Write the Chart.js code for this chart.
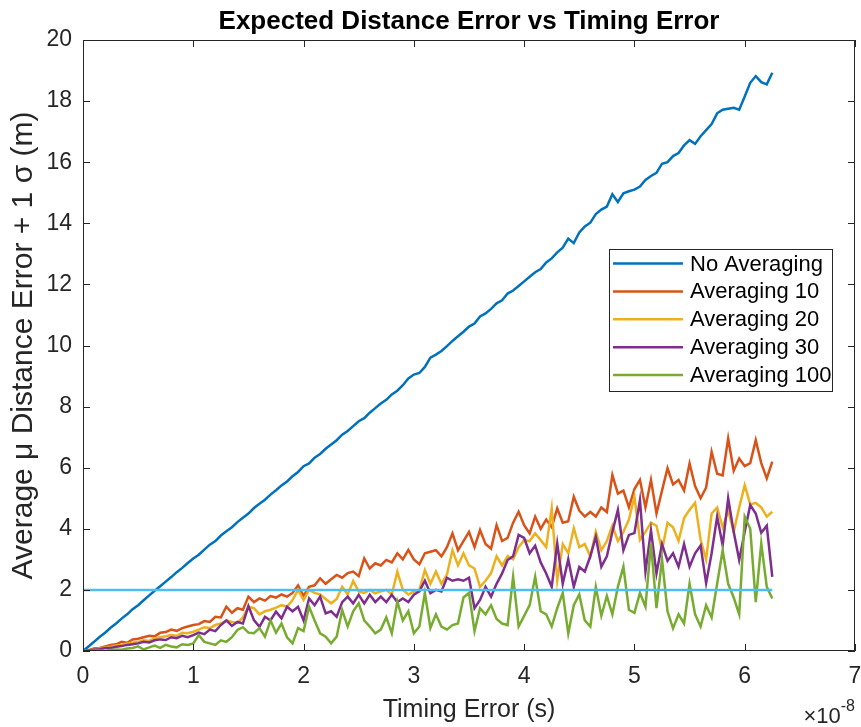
<!DOCTYPE html>
<html>
<head>
<meta charset="utf-8">
<title>Expected Distance Error vs Timing Error</title>
<script src="https://cdn.jsdelivr.net/npm/chart.js@4.4.1/dist/chart.umd.min.js"></script>
<style>
  html, body { margin: 0; padding: 0; background: #fff; }
</style>
</head>
<body>
<canvas id="myChart" width="861" height="727"></canvas>
<script>
// Timing error samples, in units of 1e-8 s (0 .. 6.25, step 0.05)
const timing = Array.from({ length: 126 }, (_, i) => +(i * 0.05).toFixed(2));

// Average mu distance error + 1 sigma (m)
const noAveraging = [
  0, 0.15, 0.3, 0.46, 0.6, 0.76, 0.9, 1.06, 1.2, 1.37,
  1.5, 1.66, 1.82, 1.97, 2.12, 2.27, 2.42, 2.58, 2.72, 2.88,
  3.03, 3.15, 3.32, 3.48, 3.6, 3.78, 3.92, 4.05, 4.22, 4.36,
  4.5, 4.68, 4.82, 4.95, 5.12, 5.26, 5.42, 5.55, 5.72, 5.86,
  6.05, 6.14, 6.33, 6.45, 6.62, 6.76, 6.9, 7.08, 7.2, 7.36,
  7.52, 7.62, 7.8, 7.95, 8.1, 8.22, 8.4, 8.52, 8.7, 8.92,
  9.05, 9.1, 9.3, 9.6, 9.7, 9.82, 9.98, 10.15, 10.3, 10.45,
  10.62, 10.72, 10.95, 11.05, 11.2, 11.38, 11.48, 11.7, 11.8, 11.95,
  12.1, 12.25, 12.4, 12.5, 12.72, 12.85, 13.05, 13.2, 13.5, 13.35,
  13.7, 13.9, 14.02, 14.3, 14.45, 14.55, 14.95, 14.7, 14.98, 15.05,
  15.1, 15.2, 15.42, 15.55, 15.65, 15.95, 16.0, 16.2, 16.3, 16.55,
  16.72, 16.6, 16.85, 17.05, 17.25, 17.6, 17.72, 17.75, 17.78, 17.72,
  18.15, 18.6, 18.82, 18.62, 18.55, 18.93
];
const averaging10 = [
  0, 0.03, 0.08, 0.1, 0.15, 0.2, 0.22, 0.3, 0.27, 0.38,
  0.4, 0.45, 0.5, 0.48, 0.6, 0.62, 0.7, 0.66, 0.75, 0.8,
  0.85, 0.88, 0.98, 0.95, 1.12, 1.1, 1.45, 1.25, 1.4, 1.35,
  1.78, 1.6, 1.72, 1.65, 1.8, 1.75, 1.85, 1.78, 1.9, 2.15,
  1.8, 2.1, 2.15, 2.38, 2.2, 2.35, 2.49, 2.4, 2.55, 2.6,
  2.45, 3.03, 2.7, 2.87, 2.8, 2.98, 2.9, 3.2, 3.0, 3.31,
  3.0, 2.84, 3.2, 3.25, 3.3, 3.1, 3.4, 3.85, 3.3, 3.6,
  3.9, 3.4, 3.96, 3.5, 3.35, 4.12, 3.6, 3.7, 4.2, 4.56,
  4.12, 3.85, 4.4, 4.0, 4.3, 4.05, 4.67, 4.2, 4.25, 5.05,
  4.6, 4.4, 4.55, 4.4, 4.7, 4.55, 5.76, 5.15, 5.25, 4.7,
  5.3, 5.6, 4.7, 5.6, 4.5, 5.25, 5.98, 5.45, 5.6, 5.25,
  6.14, 5.4, 5.0, 5.35, 6.52, 5.8, 5.75, 6.96, 5.9, 6.3,
  6.05, 6.15, 6.9, 6.15, 5.65, 6.2
];
const averaging20 = [
  0, 0.02, 0.05, 0.08, 0.12, 0.14, 0.18, 0.2, 0.25, 0.27,
  0.3, 0.35, 0.33, 0.42, 0.45, 0.48, 0.52, 0.5, 0.6, 0.58,
  0.63, 0.7, 0.78, 0.75, 0.85, 0.9, 1.0, 0.95, 0.92, 1.1,
  1.45, 1.4, 1.2, 1.3, 1.35, 1.42, 1.5, 1.45, 1.67, 2.0,
  1.67, 2.0, 1.9, 1.85, 1.7, 1.56, 1.7, 2.1, 1.85, 2.29,
  1.95, 1.9, 2.0, 1.89, 1.95, 2.0, 1.85, 2.6, 2.0, 1.85,
  1.95, 2.0, 2.65, 2.2, 2.6, 2.2, 2.5, 3.3, 2.8, 3.2,
  2.8, 2.7, 2.1, 2.3, 2.55, 3.1, 2.8, 3.1, 3.0, 3.4,
  3.63, 3.6, 3.85, 3.63, 3.4, 4.67, 2.3, 3.5, 3.2, 4.02,
  3.4, 3.5, 3.09, 3.9, 3.3, 3.6, 4.1, 3.6, 3.9, 4.3,
  5.05, 3.64, 3.9, 4.2, 4.1, 3.3, 4.2, 4.05, 3.6, 4.35,
  4.62, 4.85, 3.64, 3.0, 4.5, 4.7, 4.05, 4.6, 3.9, 4.7,
  5.43, 4.8, 4.85, 4.7, 4.4, 4.56
];
const averaging30 = [
  0, 0.02, 0.04, 0.06, 0.1, 0.1, 0.14, 0.16, 0.2, 0.22,
  0.25, 0.3, 0.28, 0.35, 0.38, 0.36, 0.45, 0.42, 0.5, 0.45,
  0.52, 0.6, 0.55, 0.7, 0.65, 0.85, 1.0, 0.82, 0.95, 0.9,
  1.47, 1.01, 0.79, 1.12, 1.0, 1.29, 1.07, 1.45, 1.3, 1.45,
  1.0, 1.72, 1.5, 1.78, 1.23, 1.3, 1.12, 1.6, 1.78, 1.56,
  1.84, 1.56, 1.84, 1.6, 1.78, 1.6, 1.84, 1.6, 1.72, 1.6,
  1.84, 1.95, 2.3, 1.89, 2.0, 1.95, 2.4, 2.3, 2.35, 2.3,
  2.4, 1.4, 1.67, 2.1, 1.78, 2.2, 2.54, 2.98, 3.1, 3.8,
  3.7, 3.2, 3.45, 2.9, 2.54, 2.1, 3.52, 2.2, 3.0, 2.1,
  2.75, 2.6, 3.1, 3.74, 2.76, 3.1, 3.9, 4.62, 3.3, 3.8,
  3.86, 4.94, 2.6, 3.95, 2.54, 3.5, 2.95, 3.2, 2.76, 3.5,
  2.76, 3.2, 3.45, 2.22, 3.2, 4.4, 3.45, 5.0, 3.9, 2.98,
  3.9, 4.78, 4.5, 3.87, 4.1, 2.43
];
const averaging100 = [
  0, 0, 0.01, 0.02, 0, 0.03, 0.05, 0.04, 0.08, 0.1,
  0.15, 0.05, 0.12, 0.18, 0.1, 0.2, 0.15, 0.12, 0.22, 0.2,
  0.25, 0.52, 0.3, 0.25, 0.2, 0.35, 0.3, 0.45, 0.69, 0.78,
  0.6, 0.58, 0.75, 0.47, 1.0, 0.6, 0.9, 0.45, 0.25, 0.75,
  0.65, 1.45, 1.0, 0.58, 0.47, 0.25, 0.47, 1.34, 0.8, 1.3,
  1.56, 1.0, 0.8, 0.58, 0.7, 1.1, 0.58, 1.62, 1.0, 1.3,
  0.58, 0.8, 1.9, 0.75, 1.2, 0.8, 0.7, 0.85, 0.9, 1.75,
  1.9, 0.65, 1.4, 1.2, 1.5, 1.05, 0.9, 0.85, 2.43, 0.8,
  1.15, 1.5, 2.43, 1.3, 1.2, 0.8, 1.4, 1.9, 0.57, 1.5,
  1.85, 1.0, 0.8, 2.1, 1.15, 1.8, 1.2, 2.1, 2.76, 1.35,
  1.25, 1.9, 1.45, 3.52, 1.4, 3.0, 1.3, 0.74, 1.2, 0.9,
  2.2, 1.2, 0.8, 1.5, 1.1, 2.2, 3.3, 2.2, 1.75, 1.2,
  4.4, 4.0, 1.6, 3.52, 2.1, 1.72
];

// 2 m reference line
const thresholdX = [0, 6.25];
const thresholdY = [2, 2];

const seriesNames = ["No Averaging", "Averaging 10", "Averaging 20", "Averaging 30", "Averaging 100"];
const seriesColors = ["#0072BD", "#D95319", "#EDB120", "#7E2F8E", "#77AC30"];
const xTicks = [0, 1, 2, 3, 4, 5, 6, 7];
const yTicks = [0, 2, 4, 6, 8, 10, 12, 14, 16, 18, 20];

const axisColor = "#262626";
const fontFamily = "'Liberation Sans', Arial, Helvetica, sans-serif";

const toPoints = (xs, ys) => ys.map((v, i) => ({ x: xs[i], y: v }));

const seriesValues = [noAveraging, averaging10, averaging20, averaging30, averaging100];
const datasets = seriesValues.map((vals, i) => ({
  label: seriesNames[i],
  data: toPoints(timing, vals),
  borderColor: seriesColors[i],
  borderWidth: 2.5,
  pointRadius: 0,
  tension: 0,
  order: 5 - i, // later series drawn on top, like MATLAB
}));
datasets.push({
  label: "2 m",
  data: toPoints(thresholdX, thresholdY),
  borderColor: "#4DBEEE",
  borderWidth: 2.5,
  pointRadius: 0,
  order: 0,
});

// MATLAB-like frame, inward ticks, title, legend and exponent label
const matlabLook = {
  id: "matlabLook",
  afterDraw(chart) {
    const { ctx, chartArea: a, scales: { x, y } } = chart;
    ctx.save();

    // box + inward ticks
    ctx.strokeStyle = axisColor;
    ctx.lineWidth = 1;
    ctx.strokeRect(a.left + 0.5, a.top + 0.5, a.width - 1, a.height - 1);
    ctx.beginPath();
    xTicks.forEach((v) => {
      const px = Math.round(x.getPixelForValue(v)) + 0.5;
      ctx.moveTo(px, a.bottom); ctx.lineTo(px, a.bottom - 7);
      ctx.moveTo(px, a.top); ctx.lineTo(px, a.top + 7);
    });
    yTicks.forEach((v) => {
      const py = Math.round(y.getPixelForValue(v)) + 0.5;
      ctx.moveTo(a.left, py); ctx.lineTo(a.left + 7, py);
      ctx.moveTo(a.right, py); ctx.lineTo(a.right - 7, py);
    });
    ctx.stroke();

    // title
    ctx.fillStyle = "#000";
    ctx.font = "bold 26px " + fontFamily;
    ctx.textAlign = "center";
    ctx.textBaseline = "middle";
    ctx.fillText("Expected Distance Error vs Timing Error", (a.left + a.right) / 2, 22);

    // exponent
    ctx.fillStyle = axisColor;
    ctx.textBaseline = "alphabetic";
    ctx.textAlign = "right";
    ctx.font = "16px " + fontFamily;
    const expW = ctx.measureText("-8").width;
    ctx.fillText("-8", a.right, 711);
    ctx.font = "22px " + fontFamily;
    ctx.fillText("\u00d710", a.right - expW, 723);

    // legend
    const lx = a.right - 246, ly = a.top + 209, lw = 223, lh = 142;
    ctx.fillStyle = "#fff";
    ctx.fillRect(lx, ly, lw, lh);
    ctx.strokeStyle = axisColor;
    ctx.lineWidth = 1;
    ctx.strokeRect(lx + 0.5, ly + 0.5, lw, lh);
    ctx.font = "22px " + fontFamily;
    ctx.textAlign = "left";
    ctx.textBaseline = "middle";
    seriesNames.forEach((name, i) => {
      const ry = ly + 14.5 + i * 27.9;
      ctx.strokeStyle = seriesColors[i];
      ctx.lineWidth = 2.5;
      ctx.beginPath();
      ctx.moveTo(lx + 4, ry); ctx.lineTo(lx + 74, ry);
      ctx.stroke();
      ctx.fillStyle = "#000";
      ctx.fillText(name, lx + 81, ry + 1);
    });
    ctx.restore();
  },
};

Chart.defaults.font.family = fontFamily;
Chart.defaults.color = axisColor;

let ctx = document.getElementById("myChart").getContext("2d");
let myChart = new Chart(ctx, {
  type: "line",
  data: { datasets: datasets },
  options: {
    responsive: false,
    animation: false,
    layout: { padding: { top: 40, right: 6, left: 0, bottom: 0 } },
    plugins: {
      legend: { display: false },
      tooltip: { enabled: false },
      title: { display: false },
    },
    scales: {
      x: {
        type: "linear",
        min: 0,
        max: 7,
        afterFit: (s) => { s.height = 76; s.paddingLeft = 0; s.paddingRight = 0; },
        afterBuildTicks: (s) => { s.ticks = xTicks.map((v) => ({ value: v })); },
        ticks: { font: { size: 23 }, color: axisColor, padding: 12, maxRotation: 0 },
        grid: { display: false, drawTicks: false },
        border: { display: false },
        title: {
          display: true,
          text: "Timing Error (s)",
          font: { size: 25 },
          color: axisColor,
          padding: { top: 0, bottom: 2 },
        },
      },
      y: {
        type: "linear",
        min: 0,
        max: 20,
        afterFit: (s) => { s.width = 83; s.paddingTop = 0; s.paddingBottom = 0; },
        afterBuildTicks: (s) => { s.ticks = yTicks.map((v) => ({ value: v })); },
        ticks: { font: { size: 23 }, color: axisColor, padding: 11 },
        grid: { display: false, drawTicks: false },
        border: { display: false },
        title: {
          display: true,
          text: "Average \u03bc Distance Error + 1 \u03c3 (m)",
          font: { size: 30 },
          color: axisColor,
          padding: { top: 6, bottom: 0 },
        },
      },
    },
  },
  plugins: [matlabLook],
});
</script>
</body>
</html>
